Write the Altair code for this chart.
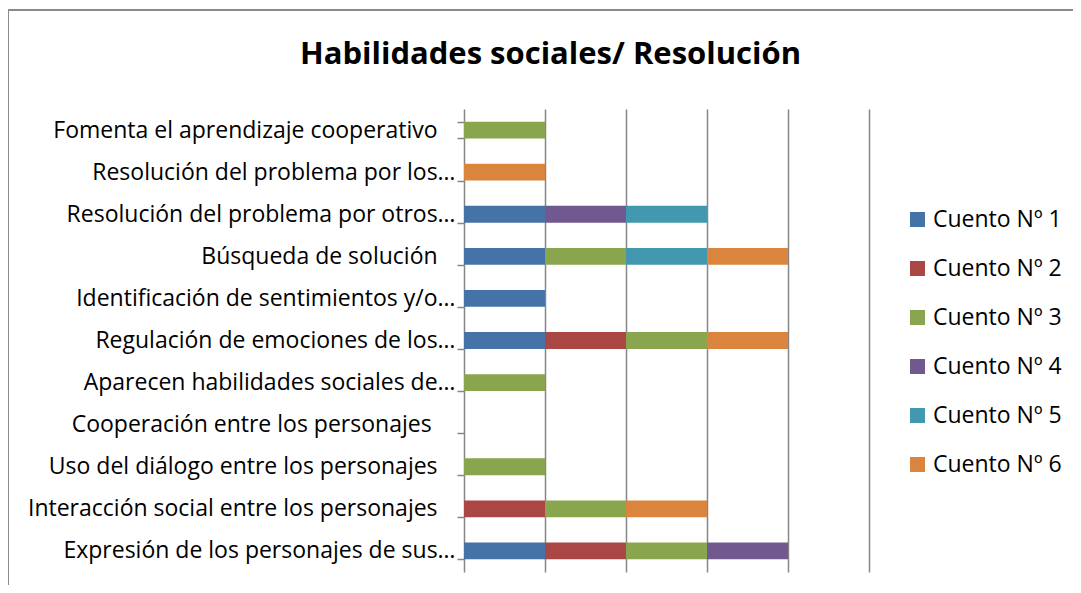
import altair as alt
import pandas as pd

PAD = "\u00a0\u00a0\u00a0\u200b"
categories = [
    "Fomenta el aprendizaje cooperativo" + PAD,
    "Resolución del problema por los…",
    "Resolución del problema por otros…",
    "Búsqueda de solución" + PAD,
    "Identificación de sentimientos y/o…",
    "Regulación de emociones de los…",
    "Aparecen habilidades sociales de…",
    "Cooperación entre los personajes\u00a0" + PAD,
    "Uso del diálogo entre los personajes" + PAD,
    "Interacción social entre los personajes" + PAD,
    "Expresión de los personajes de sus…",
]
series = ["Cuento Nº 1", "Cuento Nº 2", "Cuento Nº 3", "Cuento Nº 4", "Cuento Nº 5", "Cuento Nº 6"]
colors = ["#4572A7", "#AA4643", "#89A54E", "#71588F", "#4198AF", "#DB843D"]

# values per series, in category order (top to bottom)
c1 = [0, 0, 1, 1, 1, 1, 0, 0, 0, 0, 1]
c2 = [0, 0, 0, 0, 0, 1, 0, 0, 0, 1, 1]
c3 = [1, 0, 0, 1, 0, 1, 1, 0, 1, 1, 1]
c4 = [0, 0, 1, 0, 0, 0, 0, 0, 0, 0, 1]
c5 = [0, 0, 1, 1, 0, 0, 0, 0, 0, 0, 0]
c6 = [0, 1, 0, 1, 0, 1, 0, 0, 0, 1, 0]

rows = []
for si, (name, vals) in enumerate(zip(series, [c1, c2, c3, c4, c5, c6])):
    for cat, v in zip(categories, vals):
        rows.append({"cat": cat, "serie": name, "order": si, "value": v})
df = pd.DataFrame(rows)

FONT = "Open Sans"
GRID = "#868686"

bars = alt.Chart(df).mark_bar().encode(
    y=alt.Y("cat:N", sort=categories,
            scale=alt.Scale(domain=categories, paddingInner=0.6, paddingOuter=0.3),
            axis=alt.Axis(title=None, labelFont=FONT, labelFontSize=23, labelColor="#000000",
                          domainColor=GRID, domainWidth=1.5, tickColor=GRID, tickWidth=1.5,
                          tickSize=7, labelPadding=2, tickBand="extent", labelLimit=600)),
    x=alt.X("value:Q", stack="zero",
            scale=alt.Scale(domain=[0, 5], nice=False),
            axis=alt.Axis(title=None, labels=False, ticks=False, domain=False,
                          grid=True, gridColor=GRID, gridWidth=1.5, values=[1, 2, 3, 4, 5])),
    color=alt.Color("serie:N", scale=alt.Scale(domain=series, range=colors),
                    legend=alt.Legend(title=None, orient="none", legendX=442, legendY=99,
                                      symbolType="square", symbolSize=225, symbolStrokeWidth=0,
                                      labelFont=FONT, labelFontSize=23, labelColor="#000000",
                                      rowPadding=25, labelOffset=4)),
    order=alt.Order("order:Q"),
)

border_left = alt.Chart(df).mark_rule(color="#8a8a8a", strokeWidth=1.5).encode(
    x=alt.value(-456), y=alt.value(-99), y2=alt.value(600))
border_top = alt.Chart(df).mark_rule(color="#8a8a8a", strokeWidth=1.5).encode(
    y=alt.value(-99), x=alt.value(-456), x2=alt.value(700))

chart = alt.layer(bars, border_left, border_top).properties(
    width=405, height=463,
    padding={"left": 456, "top": 101, "right": 204, "bottom": 13},
    autosize=alt.AutoSizeParams(type="none"),
    title=alt.TitleParams("Habilidades sociales/ Resolución", font=FONT, fontSize=31,
                          fontWeight="bold", color="#000000", anchor="middle", dx=-116, dy=93,
                          offset=0, baseline="bottom"),
).configure_view(stroke=None)

chart.save("out.html", embed_options={"renderer": "svg", "actions": False})
